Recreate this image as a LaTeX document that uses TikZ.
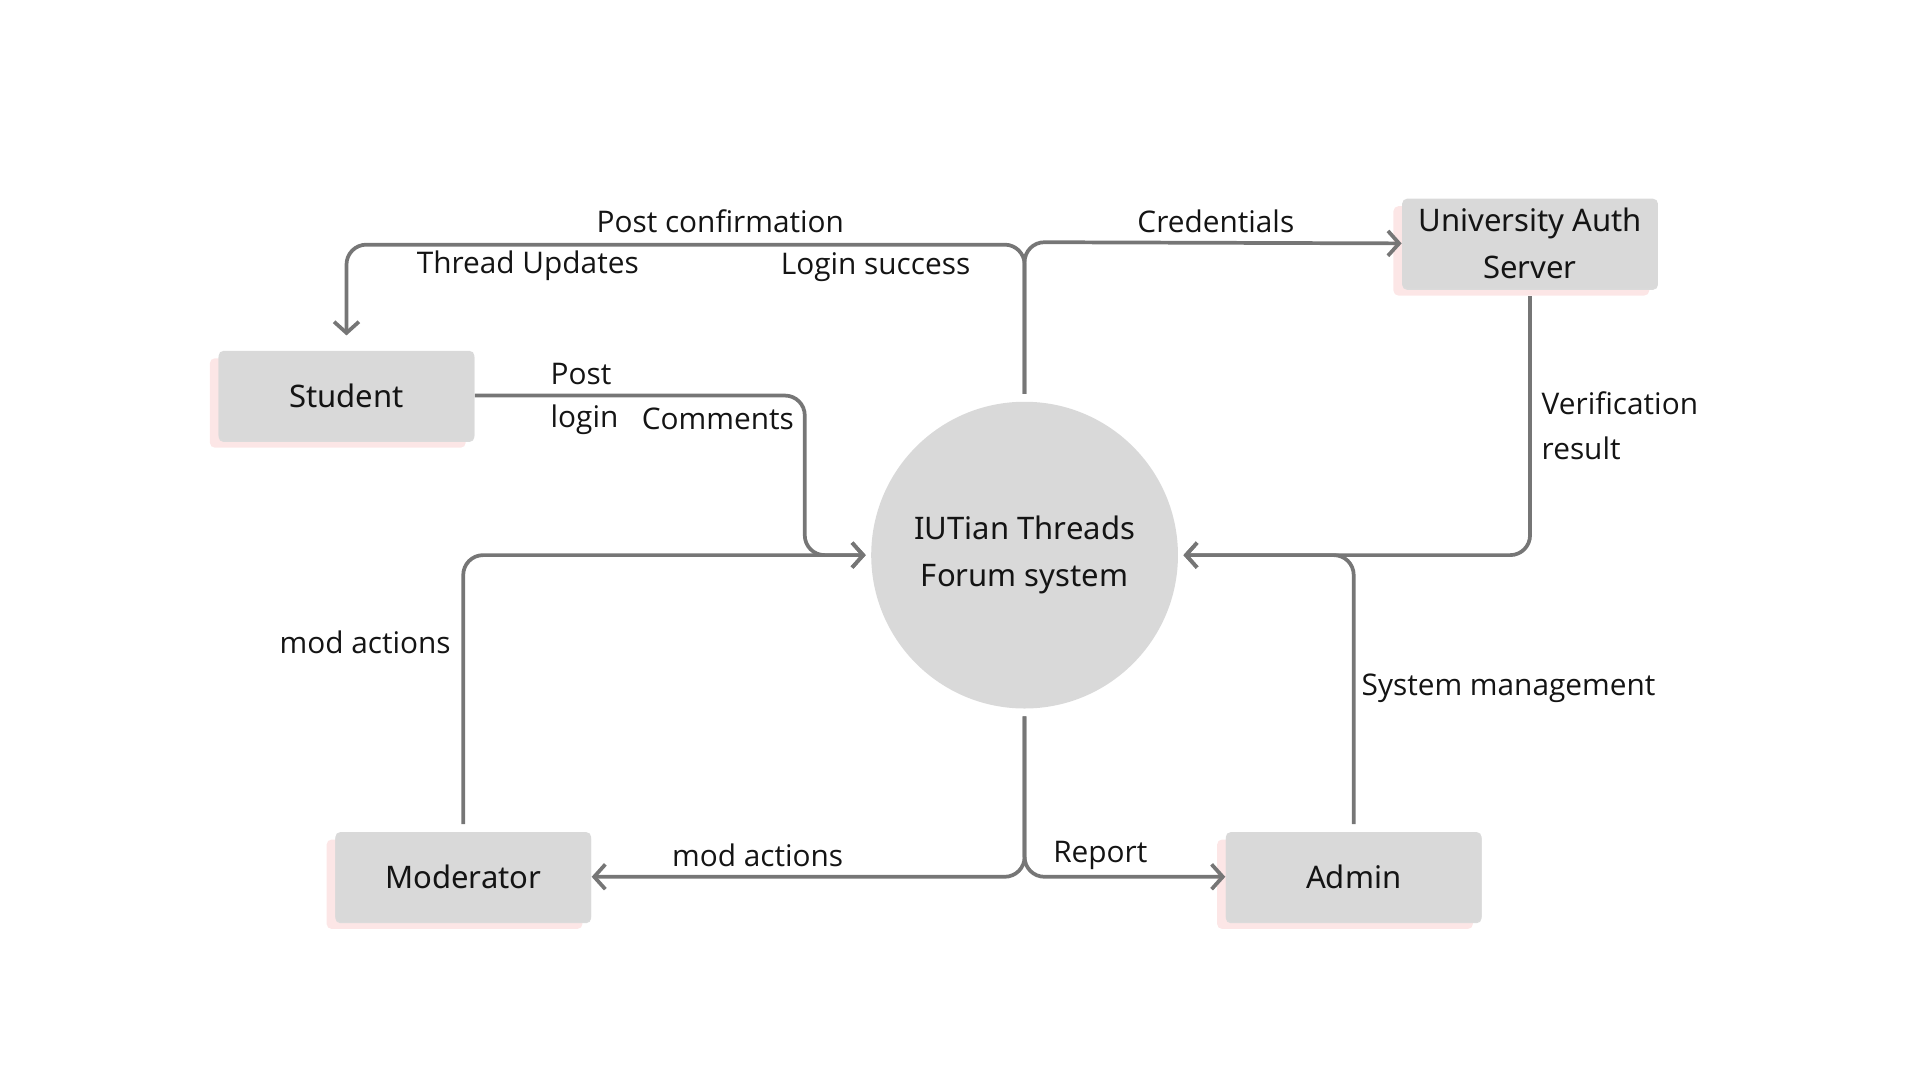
\documentclass[tikz,border=0pt]{standalone}
\usepackage{fontspec}
\setmainfont{Open Sans}
\newfontfamily\boxfont{Noto Sans}
\usetikzlibrary{arrows.meta,shadows,calc}
\definecolor{boxgray}{HTML}{D9D9D9}
\definecolor{linegray}{HTML}{767676}
\definecolor{txt}{HTML}{141414}
\definecolor{shpink}{HTML}{FCE6E6}
\tikzset{
  entity/.style={rectangle, fill=boxgray, rounded corners=2pt, minimum width=103pt, minimum height=36pt,
    text=txt, font=\boxfont\fontsize{12.5}{19}\selectfont, align=center, inner sep=0pt,
    general shadow={fill=shpink, shadow xshift=-3.5pt, shadow yshift=-3pt},
    general shadow={fill=black!14, shadow yshift=-0.7pt}},
  proc/.style={circle, fill=boxgray, minimum size=123.5pt, inner sep=0pt, text=txt,
    font=\boxfont\fontsize{12.5}{19}\selectfont, align=center},
  flow/.style={draw=linegray, line width=1.5pt, rounded corners=8pt},
  tip/.style={-{Straight Barb[length=4.5pt,width=10pt,line width=1.5pt]}},
  lbl/.style={text=txt, font=\fontsize{12}{19}\selectfont, inner sep=0pt},
}
\begin{document}
\begin{tikzpicture}[x=0.5pt,y=-0.5pt]
\useasboundingbox (0,0) rectangle (1546,870);
% nodes
\node[entity] (student) at (279,318.5) {Student};
\node[entity] (uas) at (1232,196) {University Auth\\Server};
\node[entity] (mod) at (373,706) {Moderator};
\node[entity] (admin) at (1090,706) {Admin};
\node[proc] (sys) at (825,447) {IUTian Threads\\Forum system};
% junction coordinates
\coordinate (topl) at (825,197);
\coordinate (topr) at (825,195);
\coordinate (jl) at (648,447);
% connectors
\draw[flow,tip,shorten <=3pt,shorten >=6pt] (sys.north) -- (topl) -| (student.north);
\draw[flow,tip,shorten <=3pt] (sys.north) -- (topr) -- (uas.west);
\draw[flow,tip,shorten >=2pt] (student.east) -| (jl) -- (sys.west);
\draw[flow,tip,shorten <=3pt,shorten >=2pt] (mod.north) |- (sys.west);
\draw[flow,tip,shorten <=3pt,shorten >=2pt] (uas.south) |- (sys.east);
\draw[flow,tip,shorten <=3pt,shorten >=2pt] (admin.north) |- (sys.east);
\draw[flow,tip,shorten <=3pt] (sys.south) |- (mod.east);
\draw[flow,tip,shorten <=3pt] (sys.south) |- (admin.west);
% labels
\node[lbl] (l1) at (580,178) {Post confirmation};
\node[lbl] (l2) at (425,214) {Thread Updates};
\node[lbl] (l3) at (705,215) {Login success};
\node[lbl] (l4) at (979,178) {Credentials};
\node[lbl,anchor=west] (l5) at (443,301) {Post};
\node[lbl,anchor=west] (l6) at (443,338) {login};
\node[lbl] (l7) at (578,337) {Comments};
\node[lbl] (l8) at (294,517) {mod actions};
\node[lbl,anchor=west] (l9) at (1241,325) {Verification};
\node[lbl,anchor=west] (l10) at (1241,361) {result};
\node[lbl,anchor=west] (l11) at (1096,554) {System management};
\node[lbl] (l12) at (610,689) {mod actions};
\node[lbl] (l13) at (886,689) {Report};
\end{tikzpicture}
\end{document}
